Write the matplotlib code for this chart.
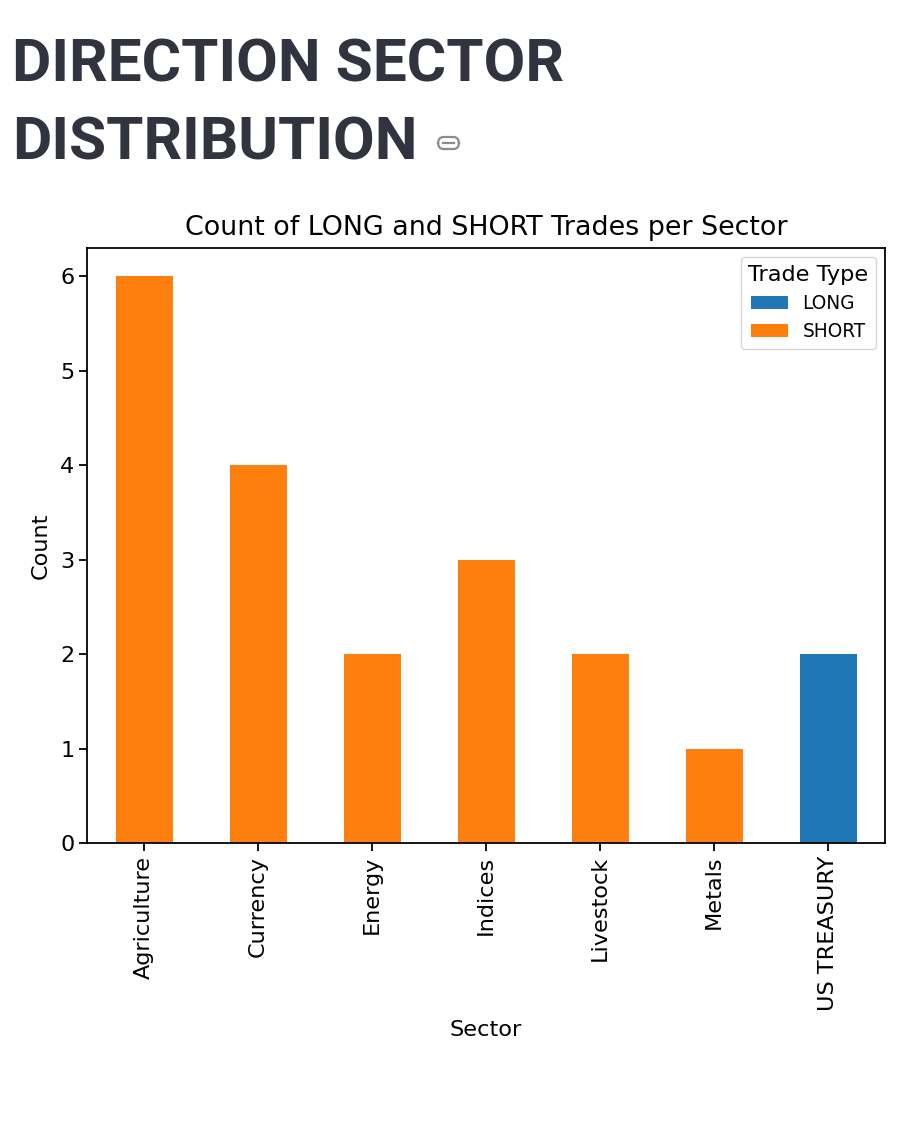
import matplotlib
matplotlib.use('Agg')
import matplotlib.pyplot as plt
from matplotlib.patches import FancyBboxPatch
import numpy as np

sectors = ['Agriculture', 'Currency', 'Energy', 'Indices', 'Livestock', 'Metals', 'US TREASURY']
long_counts = [0, 0, 0, 0, 0, 0, 2]
short_counts = [6, 4, 2, 3, 2, 1, 0]

heading_lines = ['DIRECTION SECTOR', 'DISTRIBUTION']
S = 1.61  # scale of the embedded chart

fig = plt.figure(figsize=(9.21, 11.33), dpi=100)

# page heading
fig.text(12 / 921, 1 - 82 / 1133, heading_lines[0], fontsize=43.5, fontweight='bold',
         family='Roboto', color='#31333F', va='baseline', ha='left')
fig.text(12 / 921, 1 - 160 / 1133, heading_lines[1], fontsize=43.5, fontweight='bold',
         family='Roboto', color='#31333F', va='baseline', ha='left')
# link icon
icon = FancyBboxPatch((438 / 921, 1 - 149 / 1133), 21 / 921, 12 / 1133,
                      boxstyle='round,pad=0,rounding_size=0.006', transform=fig.transFigure,
                      fill=False, edgecolor='#8a8a93', linewidth=1.6)
fig.patches.append(icon)
fig.lines.append(plt.Line2D([443 / 921, 454 / 921], [1 - 143 / 1133, 1 - 143 / 1133],
                            transform=fig.transFigure, color='#8a8a93', linewidth=1.6))

ax = fig.add_axes([87 / 921, 1 - 843 / 1133, 798 / 921, 595 / 1133])
x = np.arange(len(sectors))
ax.bar(x, long_counts, width=0.5, color='#1f77b4', label='LONG')
ax.bar(x, short_counts, width=0.5, bottom=long_counts, color='#ff7f0e', label='SHORT')
ax.set_xlim(-0.5, len(sectors) - 0.5)
ax.set_ylim(0, 6.3)
ax.set_xticks(x)
ax.set_xticklabels(sectors, rotation=90, fontsize=10 * S)
ax.tick_params(axis='y', labelsize=10 * S)
ax.tick_params(width=0.8 * S, length=3.5 * S)
for sp in ax.spines.values():
    sp.set_linewidth(0.8 * S)
ax.set_title('Count of LONG and SHORT Trades per Sector', fontsize=12 * S, pad=6 * S)
ax.set_xlabel('Sector', fontsize=10 * S, labelpad=4 * S)
ax.set_ylabel('Count', fontsize=10 * S, labelpad=4 * S)
ax.legend(title='Trade Type', fontsize=8.3 * S, title_fontsize=10 * S, loc='upper right')

fig.savefig('out.png', dpi=100)
